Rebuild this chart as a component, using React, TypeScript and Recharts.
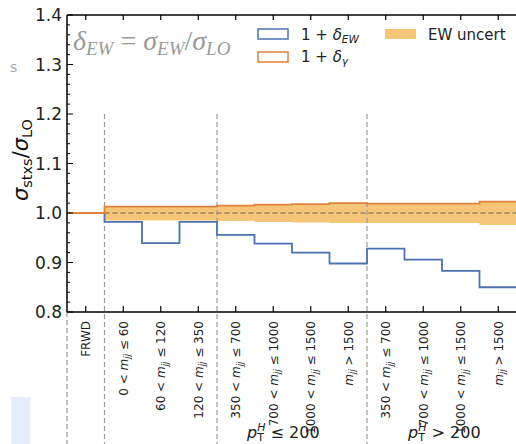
import { ComposedChart, Line, Area, XAxis, YAxis, ReferenceLine } from "recharts"

// STXS bins (VBF-like), FRWD first, then mjj slices for low / high pT^H
const binLabels = [
  "FRWD",
  "0 < mjj ≤ 60",
  "60 < mjj ≤ 120",
  "120 < mjj ≤ 350",
  "350 < mjj ≤ 700",
  "700 < mjj ≤ 1000",
  "1000 < mjj ≤ 1500",
  "mjj > 1500",
  "350 < mjj ≤ 700",
  "700 < mjj ≤ 1000",
  "1000 < mjj ≤ 1500",
  "mjj > 1500",
]
const binEdges = [0, 1, 2, 3, 4, 5, 6, 7, 8, 9, 10, 11, 12]
const ewRatio = [1.0, 0.982, 0.939, 0.982, 0.956, 0.938, 0.92, 0.898, 0.928, 0.906, 0.883, 0.85]
const gammaRatio = [1.0, 1.013, 1.013, 1.013, 1.015, 1.017, 1.018, 1.02, 1.019, 1.019, 1.019, 1.023]
const uncertLow = [null, 0.985, 0.985, 0.985, 0.984, 0.982, 0.981, 0.98, 0.98, 0.98, 0.98, 0.976]
const uncertHigh = [null, 1.013, 1.013, 1.013, 1.015, 1.017, 1.018, 1.02, 1.019, 1.019, 1.019, 1.023]
const yTicks = [
  0.8, 0.82, 0.84, 0.86, 0.88, 0.9, 0.92, 0.94, 0.96, 0.98, 1.0, 1.02, 1.04, 1.06, 1.08, 1.1,
  1.12, 1.14, 1.16, 1.18, 1.2, 1.22, 1.24, 1.26, 1.28, 1.3, 1.32, 1.34, 1.36, 1.38, 1.4,
]
const groupEdges = [1, 4, 8]

const BLUE = "#4c72b0"
const ORANGE = "#e0823d"
const BAND = "#f5c677"
const FONT = "DejaVu Sans"

const rows = binEdges.map((x, i) => {
  const k = Math.min(i, binLabels.length - 1)
  const lo = uncertLow[k]
  const hi = uncertHigh[k]
  return { x, ew: ewRatio[k], gamma: gammaRatio[k], band: lo == null || hi == null ? null : [lo, hi] }
})
const tickPos = binLabels.map((_, i) => binEdges[i] + 0.5)

const isMajor = (v: number) => Math.abs(v * 10 - Math.round(v * 10)) < 1e-6

function BottomTick(props: any) {
  const { x, y, payload } = props
  const label = binLabels[Math.floor(payload.value)]
  const parts = label.split("mjj")
  const bx = x + 4.5
  const ty = y + 9
  return (
    <g>
      <line x1={x} x2={x} y1={y} y2={y - 6} stroke="#000" strokeWidth={1.2} />
      <text
        x={bx}
        y={ty}
        transform={`rotate(-90 ${bx} ${ty})`}
        textAnchor="end"
        fontSize={12}
        fontFamily={FONT}
        fill="#222"
      >
        {parts.length === 1 ? (
          label
        ) : (
          <>
            {parts[0]}
            <tspan fontStyle="italic">m</tspan>
            <tspan fontStyle="italic" fontSize={8.5} dy={2.5}>
              jj
            </tspan>
            <tspan dy={-2.5}>{parts[1]}</tspan>
          </>
        )}
      </text>
    </g>
  )
}

function TopTick(props: any) {
  const { x, y } = props
  return <line x1={x} x2={x} y1={y} y2={y + 5} stroke="#000" strokeWidth={1.2} />
}

function LeftTick(props: any) {
  const { x, y, payload } = props
  const major = isMajor(payload.value)
  return (
    <g>
      <line x1={x} x2={x + (major ? 6 : 3)} y1={y} y2={y} stroke="#000" strokeWidth={1} />
      {major && (
        <text x={x - 5} y={y + 6} textAnchor="end" fontSize={17} fontFamily={FONT} fill="#222">
          {payload.value.toFixed(1)}
        </text>
      )}
    </g>
  )
}

function RightTick(props: any) {
  const { x, y, payload } = props
  const major = isMajor(payload.value)
  return <line x1={x} x2={x - (major ? 6 : 3)} y1={y} y2={y} stroke="#000" strokeWidth={1} />
}

const axisStroke = { stroke: "#000", strokeWidth: 1.5 }

export default function App() {
  return (
    <div
      style={{
        position: "absolute",
        left: 0,
        top: 0,
        width: 516,
        height: 444,
        overflow: "hidden",
        background: "#fff",
      }}
    >
      <ComposedChart width={518} height={444} data={rows} margin={{ top: 14, right: 0, left: 0, bottom: 0 }}>
        <XAxis
          xAxisId="bottom"
          dataKey="x"
          type="number"
          domain={[0, 12]}
          ticks={tickPos}
          interval={0}
          height={132}
          tickSize={0}
          tickMargin={0}
          tickLine={false}
          axisLine={axisStroke}
          tick={(p: any) => <BottomTick {...p} />}
        />
        <XAxis
          xAxisId="top"
          orientation="top"
          dataKey="x"
          type="number"
          domain={[0, 12]}
          ticks={tickPos}
          interval={0}
          height={1}
          tickSize={0}
          tickMargin={0}
          tickLine={false}
          axisLine={axisStroke}
          tick={(p: any) => <TopTick {...p} />}
        />
        <YAxis
          yAxisId="left"
          type="number"
          domain={[0.8, 1.4]}
          ticks={yTicks}
          interval={0}
          width={67}
          tickSize={0}
          tickMargin={0}
          tickLine={false}
          axisLine={axisStroke}
          tick={(p: any) => <LeftTick {...p} />}
        />
        <YAxis
          yAxisId="right"
          orientation="right"
          type="number"
          domain={[0.8, 1.4]}
          ticks={yTicks}
          interval={0}
          width={1}
          tickSize={0}
          tickMargin={0}
          tickLine={false}
          axisLine={axisStroke}
          tick={(p: any) => <RightTick {...p} />}
        />
        <Area
          xAxisId="bottom"
          yAxisId="left"
          dataKey="band"
          type="stepAfter"
          stroke="none"
          fill={BAND}
          fillOpacity={1}
          isAnimationActive={false}
        />
        <ReferenceLine
          xAxisId="bottom"
          yAxisId="left"
          segment={[
            { x: 1, y: 1 },
            { x: 12, y: 1 },
          ]}
          stroke="#6f6250"
          strokeDasharray="5 3"
          strokeWidth={1.2}
        />
        {groupEdges.map((e) => (
          <ReferenceLine
            key={e}
            xAxisId="bottom"
            yAxisId="left"
            ifOverflow="visible"
            segment={[
              { x: e, y: 1.2 },
              { x: e, y: 0.53 },
            ]}
            stroke="#999"
            strokeDasharray="5 3"
            strokeWidth={1.2}
          />
        ))}
        <ReferenceLine
          xAxisId="bottom"
          yAxisId="left"
          ifOverflow="visible"
          segment={[
            { x: 0, y: 0.8 },
            { x: 0, y: 0.53 },
          ]}
          stroke="#999"
          strokeDasharray="5 3"
          strokeWidth={1.2}
        />
        <Line
          xAxisId="bottom"
          yAxisId="left"
          dataKey="ew"
          type="stepAfter"
          stroke={BLUE}
          strokeWidth={1.8}
          dot={false}
          isAnimationActive={false}
        />
        <Line
          xAxisId="bottom"
          yAxisId="left"
          dataKey="gamma"
          type="stepAfter"
          stroke={ORANGE}
          strokeWidth={1.8}
          dot={false}
          isAnimationActive={false}
        />
      </ComposedChart>

      <svg
        width={516}
        height={444}
        style={{ position: "absolute", left: 0, top: 0, pointerEvents: "none" }}
      >
        {/* stray bits from the cropped original */}
        <rect x={11} y={397} width={19} height={47} fill="#e5eefa" />
        <text x={10} y={72} fontSize={14} fontFamily={FONT} fill="#aaa">
          s
        </text>

        {/* title */}
        <text x={73} y={50} fontSize={28} fontFamily="Liberation Serif" fontStyle="italic" fill="#9a9a9a">
          δ
          <tspan fontSize={19} dy={5}>
            EW
          </tspan>
          <tspan dy={-5} fontStyle="normal">
            {" = "}
          </tspan>
          σ
          <tspan fontSize={19} dy={5}>
            EW
          </tspan>
          <tspan dy={-5} fontStyle="normal">
            /
          </tspan>
          σ
          <tspan fontSize={19} dy={5}>
            LO
          </tspan>
        </text>

        {/* y label */}
        <text
          x={28}
          y={160}
          transform="rotate(-90 28 160)"
          textAnchor="middle"
          fontSize={21}
          fontFamily={FONT}
          fill="#111"
        >
          <tspan fontStyle="italic">σ</tspan>
          <tspan fontSize={14.5} dy={4}>
            stxs
          </tspan>
          <tspan dy={-4}>/</tspan>
          <tspan fontStyle="italic">σ</tspan>
          <tspan fontSize={14.5} dy={4}>
            LO
          </tspan>
        </text>

        {/* legend */}
        <rect x={258} y={29} width={30} height={10} fill="#fff" stroke={BLUE} strokeWidth={1.5} />
        <text x={301} y={40} fontSize={15} fontFamily={FONT} fill="#222">
          {"1 + "}
          <tspan fontStyle="italic">δ</tspan>
          <tspan fontStyle="italic" fontSize={10.5} dy={3}>
            EW
          </tspan>
        </text>
        <rect x={258} y={52} width={30} height={10} fill="#fff" stroke={ORANGE} strokeWidth={1.5} />
        <text x={301} y={62} fontSize={15} fontFamily={FONT} fill="#222">
          {"1 + "}
          <tspan fontStyle="italic">δ</tspan>
          <tspan fontStyle="italic" fontSize={10.5} dy={3}>
            γ
          </tspan>
        </text>
        <rect x={385} y={29} width={31} height={10} fill={BAND} />
        <text x={428} y={40} fontSize={15} fontFamily={FONT} fill="#222">
          EW uncert
        </text>

        {/* pT groups */}
        <text x={247} y={438} fontSize={16} fontFamily={FONT} fill="#222">
          <tspan fontStyle="italic">p</tspan>
          <tspan fontStyle="italic" fontSize={11} dy={-7}>
            H
          </tspan>
          <tspan fontSize={11} dx={-8.3} dy={10}>
            T
          </tspan>
          <tspan dx={1.6} dy={-3}>
            {" ≤ 200"}
          </tspan>
        </text>
        <text x={408} y={438} fontSize={16} fontFamily={FONT} fill="#222">
          <tspan fontStyle="italic">p</tspan>
          <tspan fontStyle="italic" fontSize={11} dy={-7}>
            H
          </tspan>
          <tspan fontSize={11} dx={-8.3} dy={10}>
            T
          </tspan>
          <tspan dx={1.6} dy={-3}>
            {" > 200"}
          </tspan>
        </text>
      </svg>
    </div>
  )
}
